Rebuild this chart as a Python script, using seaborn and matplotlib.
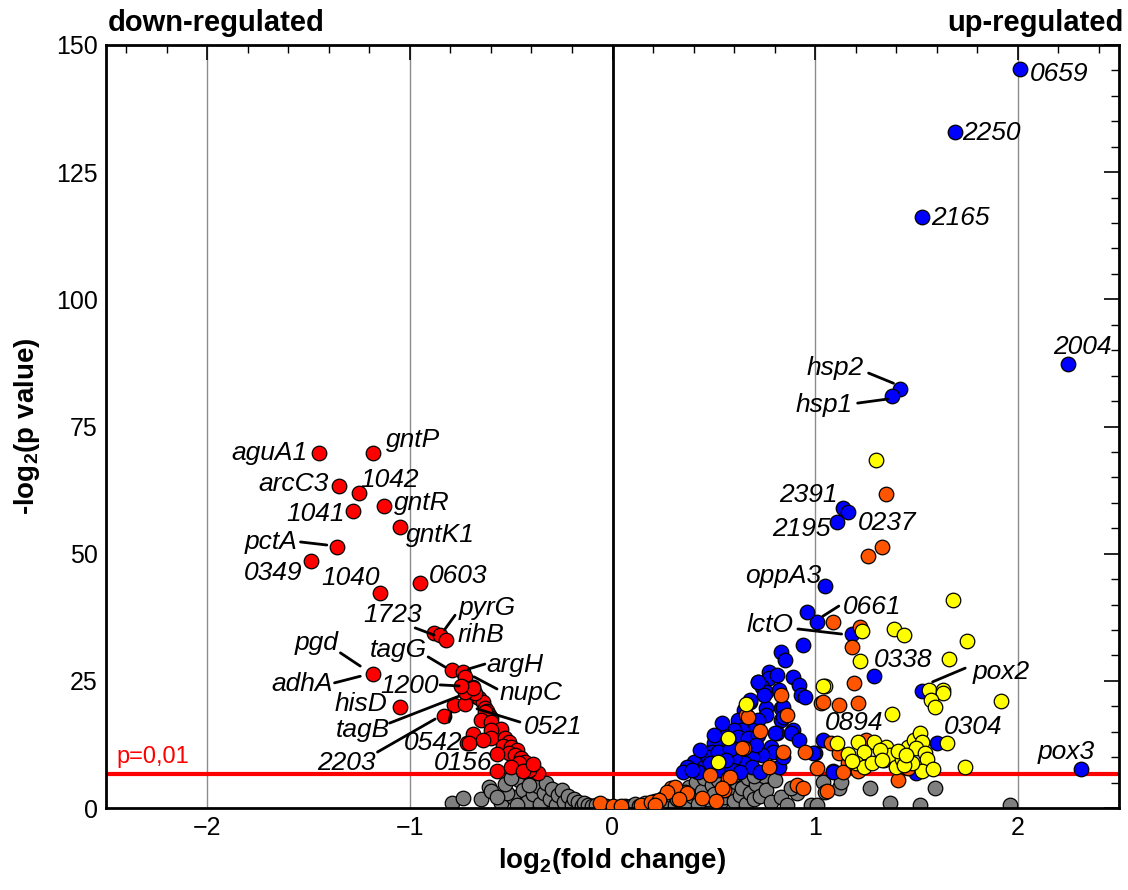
import numpy as np
import pandas as pd
import matplotlib
matplotlib.use("Agg")
import matplotlib.pyplot as plt
import seaborn as sns
from matplotlib.ticker import MultipleLocator

sns.set_theme(style="white")
plt.rcParams['font.family'] = ['Liberation Sans', 'DejaVu Sans']
plt.rcParams['mathtext.fontset'] = 'custom'
plt.rcParams['mathtext.rm'] = 'Liberation Sans'
plt.rcParams['mathtext.bf'] = 'Liberation Sans:bold'
plt.rcParams['mathtext.it'] = 'Liberation Sans:italic'
plt.rcParams['text.color'] = 'black'
plt.rcParams['axes.labelcolor'] = 'black'
plt.rcParams['xtick.color'] = 'black'
plt.rcParams['ytick.color'] = 'black'

# ---------------- data (log2 fold change, -log2 p value) ----------------
gray_x = [-0.79, -0.74, -0.65, -0.61, -0.60, -0.55, -0.49, -0.46, -0.44, -0.42, -0.40, -0.39, -0.37,
          -0.36, -0.34, -0.33, -0.31, -0.30, -0.28, -0.27, -0.25, -0.24, -0.22, -0.20, -0.19, -0.17,
          -0.15, -0.14, -0.12, -0.10, -0.08, -0.05, -0.03, -0.47, -0.52, -0.57, -0.53, -0.50, -0.41,
          0.03, 0.06, 0.09, 0.11, 0.13, 0.16, 0.18, 0.21, 0.23, 0.25, 0.27, 0.29, 0.31, 0.32, 0.34,
          0.36, 0.38, 0.39, 0.41, 0.42, 0.44, 0.45, 0.47, 0.49, 0.50, 0.52, 0.53, 0.55, 0.56, 0.58,
          0.60, 0.61, 0.63, 0.64, 0.66, 0.67, 0.68, 0.70, 0.71, 0.73, 0.75, 0.76, 0.78, 0.80, 0.83,
          0.86, 0.91, 0.98, 1.01, 1.04, 1.05, 1.12, 1.13, 1.27, 1.37, 1.52, 1.59, 1.96, 0.88, 0.70, 0.60]
gray_y = [1.0, 2.0, 1.8, 4.1, 3.3, 1.0, 2.2, 5.5, 3.5, 1.2, 5.5, 2.8, 4.4,
          0.8, 3.0, 5.0, 1.8, 3.8, 0.5, 2.6, 3.5, 1.2, 2.4, 0.6, 1.8, 1.2,
          0.4, 0.9, 0.5, 0.3, 0.6, 0.2, 0.4, 0.6, 3.0, 2.2, 4.8, 5.8, 4.5,
          0.2, 0.4, 0.3, 0.7, 0.4, 1.0, 0.5, 1.3, 0.7, 2.0, 1.1, 2.6, 0.6, 1.8, 3.2,
          1.2, 4.2, 2.3, 5.2, 0.8, 3.4, 5.8, 1.8, 4.5, 2.8, 5.6, 0.9, 2.2, 4.6, 3.3,
          1.4, 5.2, 2.5, 4.0, 0.7, 5.8, 3.0, 1.8, 4.8, 2.4, 6.2, 3.6, 1.2, 5.5, 2.2,
          0.5, 2.9, 0.6, 0.6, 5.1, 3.1, 3.9, 5.1, 3.9, 1.0, 0.5, 3.9, 0.6, 4.0, 6.3, 6.4]

red_x = [-1.45, -1.18, -1.35, -1.25, -1.13, -1.28, -1.05, -1.36, -1.49, -0.95, -1.15, -0.88, -0.85,
         -0.82, -1.18, -0.79, -0.74, -0.73, -0.74, -0.69, -0.68, -1.05, -0.78, -0.73, -0.83, -0.72,
         -0.69, -0.57, -0.66, -0.64, -0.68, -0.73, -0.69, -0.75,
         -0.63, -0.62, -0.61, -0.60, -0.63, -0.65, -0.60, -0.55, -0.60, -0.60, -0.64, -0.71, -0.53,
         -0.51, -0.54, -0.50, -0.47, -0.51, -0.48, -0.45, -0.43, -0.46, -0.50, -0.40, -0.37, -0.41,
         -0.57, -0.44, -0.39]
red_y = [69.8, 69.8, 63.3, 61.9, 59.4, 58.4, 55.2, 51.3, 48.6, 44.3, 42.3, 34.4, 34.0,
         33.0, 26.3, 27.1, 26.7, 25.8, 23.8, 23.8, 22.0, 19.9, 20.2, 20.4, 18.1, 12.8,
         14.5, 7.3, 21.6, 20.8, 22.6, 22.8, 23.6, 24.0,
         19.7, 19.1, 18.3, 17.7, 18.9, 17.3, 16.9, 15.5, 15.3, 13.8, 13.4, 12.8, 13.8,
         13.0, 12.2, 12.0, 11.4, 10.8, 10.4, 9.8, 9.0, 8.8, 8.1, 7.9, 6.9, 7.5,
         10.6, 7.3, 8.6]

blue_x = [2.01, 1.69, 1.53, 2.25, 2.31, 1.42, 1.38, 1.14, 1.16, 1.11, 1.05, 1.01, 0.96, 1.18, 1.29,
          0.94, 1.53, 1.60, 1.04, 1.00, 1.09, 1.50,
          0.83, 0.85, 0.77, 0.77, 0.81, 0.72, 0.74, 0.76, 0.89, 0.92, 0.93, 0.95, 0.82, 0.83, 0.83,
          0.89, 0.88, 0.68, 0.65, 0.76, 0.76, 0.62, 0.67, 0.72, 0.69, 0.64, 0.60, 0.62, 0.67, 0.72,
          0.81, 0.54, 0.57, 0.50, 0.49, 0.44, 0.40, 0.37, 0.35, 0.78, 0.79, 0.74, 0.69, 0.65, 0.60,
          0.55, 0.45, 0.42, 0.52, 0.59, 0.69, 0.82, 0.84, 0.73, 0.63, 0.47, 0.52, 0.59, 0.54, 0.50,
          0.92, 0.99, 1.09, 0.84, 0.84, 0.80, 0.72, 0.75, 0.68, 0.58, 0.48, 0.39, 0.43, 0.56, 0.71]
blue_y = [145.3, 132.9, 116.2, 87.3, 7.7, 82.4, 81.0, 59.0, 58.2, 56.2, 43.6, 36.6, 38.5, 34.2, 25.9,
          32.0, 23.0, 12.8, 13.4, 10.8, 7.3, 6.9,
          30.7, 29.1, 26.7, 25.6, 26.1, 24.8, 23.8, 22.8, 25.8, 24.2, 22.2, 21.8, 23.2, 19.7, 17.3,
          15.3, 14.7, 20.8, 19.3, 19.7, 18.3, 17.3, 16.7, 17.3, 15.3, 15.3, 15.3, 14.0, 13.8, 14.4,
          14.7, 14.7, 13.0, 12.8, 11.0, 10.0, 9.0, 8.1, 7.1, 12.0, 11.0, 10.4, 10.0, 8.8, 9.8,
          8.8, 8.1, 7.1, 7.5, 7.5, 8.1, 8.1, 10.0, 7.1, 7.1, 10.0, 11.0, 11.8, 16.7, 14.4,
          13.4, 10.8, 7.1, 19.9, 17.9, 14.7, 24.8, 22.2, 21.2, 11.6, 8.9, 7.4, 11.5, 9.5, 12.4]

orange_x = [1.35, 1.33, 1.26, 1.09, 1.22, 1.18, 1.19, 1.03, 1.12, 1.21, 0.83, 0.86, 0.73, 0.65,
            0.66, 0.84, 0.95, 1.08, 1.12, 1.25, 1.16, 1.21, 1.01, 1.14, 1.34, 1.46, 1.41, 0.91,
            0.94, 1.06, 0.57, 0.55, 0.48, 0.67, 0.64, 0.58, 0.36, 0.54, 0.77, 1.04,
            0.29, 0.31, 0.27, 0.37, 0.33, -0.06, 0.00, 0.04, 0.14, 0.19, 0.23, 0.21, 0.44, 0.51]
orange_y = [61.7, 51.3, 49.5, 36.6, 35.6, 31.7, 24.6, 20.6, 20.2, 20.6, 22.2, 18.3, 15.1, 11.8,
            18.3, 11.0, 11.0, 12.8, 10.8, 13.4, 8.8, 7.3, 7.9, 7.1, 9.4, 7.9, 5.5, 4.5,
            3.9, 3.3, 5.9, 3.5, 6.5, 17.9, 11.8, 6.1, 3.1, 3.9, 8.1, 20.8,
            3.9, 4.1, 3.1, 2.9, 1.8, 1.0, 0.4, 0.4, 0.6, 1.2, 1.6, 0.5, 2.0, 1.4]

yellow_x = [1.30, 1.68, 1.39, 1.44, 1.23, 1.75, 1.66, 1.22, 1.05, 1.56, 1.63, 1.63, 1.57, 1.59,
            1.92, 1.38, 1.65, 1.74, 1.11, 1.21, 1.29, 1.16, 1.24, 1.20, 1.24, 1.28, 1.35, 1.37,
            1.40, 1.43, 1.46, 1.49, 1.52, 1.53, 1.50, 1.54, 1.55, 1.53, 1.58, 1.48, 1.44, 0.66,
            0.57, 0.52, 1.04, 1.32, 1.41, 1.33, 1.18, 1.45]
yellow_y = [68.4, 40.9, 35.2, 34.0, 34.8, 32.8, 29.3, 28.9, 24.0, 23.2, 23.2, 22.6, 21.2, 19.9,
            21.0, 18.5, 12.8, 8.1, 12.8, 13.0, 13.0, 10.6, 11.0, 8.8, 8.1, 8.8, 12.0, 10.4,
            8.1, 9.6, 12.0, 13.4, 14.7, 13.0, 11.8, 10.8, 9.6, 7.3, 7.7, 8.8, 8.5, 20.4,
            13.8, 9.0, 24.0, 11.5, 11.2, 9.5, 9.2, 10.5]

# gene labels: text, x, y, ha
lab_text = ['aguA1', 'gntP', 'arcC3', '1042', 'gntR', '1041', 'gntK1', 'pctA', '0349', '1040',
            '0603', '1723', 'pyrG', 'rihB', 'pgd', 'adhA', 'tagG', 'argH', '1200', 'nupC',
            'hisD', 'tagB', '0542', '2203', '0156', '0521',
            '0659', '2250', '2165', '2004', 'hsp2', 'hsp1', '2391', '2195', '0237', 'oppA3',
            '0661', 'lctO', '0338', 'pox2', '0894', '0304', 'pox3']
lab_x = [-1.505, -1.12, -1.40, -1.245, -1.077, -1.32, -1.02, -1.555, -1.53, -1.15,
         -0.905, -0.94, -0.757, -0.767, -1.35, -1.38, -0.915, -0.62, -0.855, -0.555,
         -1.11, -1.10, -0.743, -1.17, -0.595, -0.438,
         2.06, 1.727, 1.574, 2.32, 1.24, 1.185, 1.11, 1.077, 1.21, 1.028,
         1.135, 0.895, 1.29, 1.78, 1.05, 1.635, 2.10]
lab_y = [69.8, 72.3, 63.7, 64.5, 60.0, 57.8, 53.7, 52.3, 46.2, 45.2,
         45.6, 37.9, 39.3, 34.0, 32.4, 24.4, 31.1, 28.1, 24.0, 22.6,
         20.4, 15.4, 12.8, 8.8, 8.8, 15.9,
         144.3, 132.7, 116.0, 90.6, 86.5, 79.2, 61.5, 54.8, 56.0, 45.6,
         39.5, 36.0, 29.1, 26.7, 16.7, 15.9, 11.0]
lab_ha = ['right', 'left', 'right', 'left', 'left', 'right', 'left', 'right', 'right', 'right',
          'left', 'right', 'left', 'left', 'right', 'right', 'right', 'left', 'right', 'left',
          'right', 'right', 'right', 'right', 'right', 'left',
          'left', 'left', 'left', 'center', 'right', 'right', 'right', 'right', 'left', 'right',
          'left', 'right', 'left', 'left', 'left', 'left', 'left']

# leader lines: (x0, y0, x1, y1)
lead_x0 = [-1.54, -0.974, -0.777, -1.343, -1.372, -0.91, -0.713, -0.851, -0.684, -1.10, -0.797, -1.16, -0.669,
           1.264, 1.21, 1.038, 0.915, 1.58]
lead_y0 = [52.3, 35.4, 37.9, 30.5, 24.6, 29.7, 27.3, 24.2, 25.8, 16.7, 18.9, 11.0, 19.5,
           85.5, 79.6, 37.7, 35.2, 24.8]
lead_x1 = [-1.41, -0.88, -0.83, -1.245, -1.245, -0.826, -0.63, -0.757, -0.57, -0.757, -0.807, -0.875, -0.457,
           1.387, 1.358, 1.117, 1.131, 1.741]
lead_y1 = [51.7, 34.0, 35.0, 27.9, 25.9, 27.7, 28.3, 24.0, 23.4, 22.0, 16.9, 17.5, 16.9,
           83.5, 80.4, 39.7, 34.2, 27.5]

threshold = -np.log2(0.01)

# ---------------- figure ----------------
fig = plt.figure(figsize=(11.28, 8.9), dpi=100)
ax = fig.add_axes([106 / 1128, 1 - 808 / 890, (1119 - 106) / 1128, (808 - 45) / 890])

for gx in [-2, -1, 1, 2]:
    ax.axvline(gx, color='#8c8c8c', lw=1.0, zorder=0)
ax.axvline(0, color='black', lw=2.0, zorder=0.5)
ax.axhline(threshold, color='#ff0000', lw=3.0, zorder=1)

groups = [
    (gray_x, gray_y, '#7f7f7f'),
    (red_x, red_y, '#ff0000'),
    (blue_x, blue_y, '#0000ff'),
    (orange_x, orange_y, '#ff5500'),
    (yellow_x, yellow_y, '#ffff00'),
]
for i, (gx, gy, col) in enumerate(groups):
    df = pd.DataFrame({'x': gx, 'y': gy})
    sns.scatterplot(data=df, x='x', y='y', ax=ax, color=col, s=110, edgecolor='black',
                    linewidth=0.9, zorder=2 + i, legend=False)

for t, x, y, ha in zip(lab_text, lab_x, lab_y, lab_ha):
    ax.text(x, y, t, ha=ha, va='center', fontsize=19, style='italic', color='black', zorder=10)

for x0, y0, x1, y1 in zip(lead_x0, lead_y0, lead_x1, lead_y1):
    ax.plot([x0, x1], [y0, y1], color='black', lw=2.0, zorder=9)

ax.text(-2.45, threshold + 1.2, 'p=0,01', color='#ff0000', fontsize=17, ha='left', va='bottom')

ax.set_xlim(-2.5, 2.5)
ax.set_ylim(0, 150)
ax.xaxis.set_major_locator(MultipleLocator(1))
ax.xaxis.set_minor_locator(MultipleLocator(0.2))
ax.yaxis.set_major_locator(MultipleLocator(25))
ax.yaxis.set_minor_locator(MultipleLocator(5))
ax.tick_params(which='both', direction='in', top=True, right=True, color='black', labelcolor='black')
ax.tick_params(which='major', length=11, width=1.2, labelsize=18, pad=6)
ax.tick_params(which='minor', length=6, width=1.0)
for sp in ax.spines.values():
    sp.set_linewidth(2.0)
    sp.set_color('black')
ax.grid(False)

ax.set_xlabel(r'log$\mathbf{_2}$(fold change)', fontsize=20, fontweight='bold', labelpad=4, color='black')
ax.set_ylabel(r'-log$\mathbf{_2}$(p value)', fontsize=20, fontweight='bold', labelpad=10, color='black')

fig.text(108 / 1128, 1 - 31 / 890, 'down-regulated', fontsize=21, fontweight='bold', ha='left',
         va='baseline', color='black')
fig.text(1124 / 1128, 1 - 31 / 890, 'up-regulated', fontsize=21, fontweight='bold', ha='right',
         va='baseline', color='black')

fig.savefig('out.png', dpi=100)
